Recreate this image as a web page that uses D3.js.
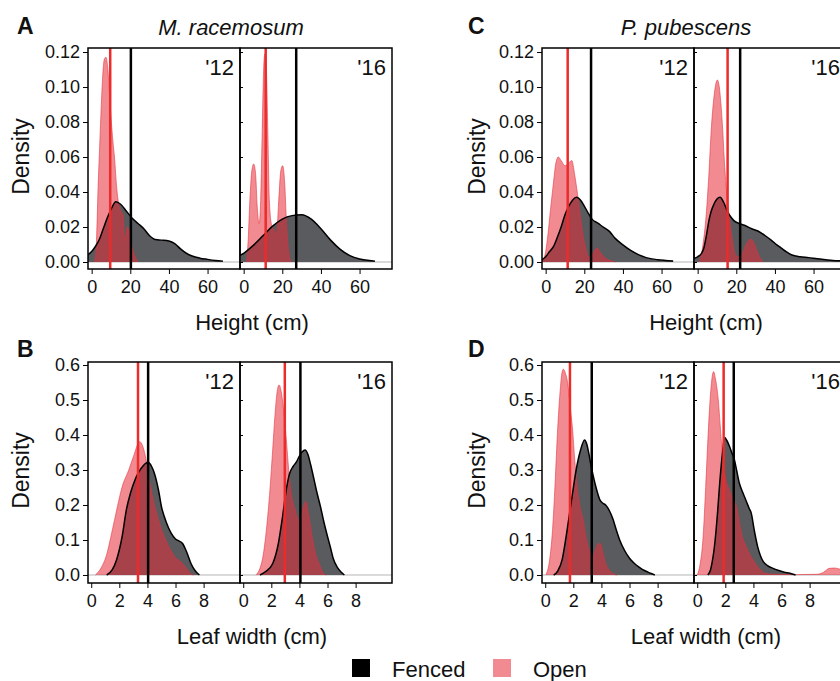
<!DOCTYPE html>
<html>
<head>
<meta charset="utf-8">
<script src="https://cdn.jsdelivr.net/npm/d3@7"></script>
<style>
  body { margin: 0; background: #fff; }
  text { font-family: "Liberation Sans", Arial, sans-serif; fill: #111; }
</style>
</head>
<body>
<div id="chart"></div>
<script>
// ---- data: [value, density] pairs ----
const species = ["M. racemosum", "P. pubescens"];
const years = ["'12", "'16"];
const legendLabels = ["Fenced", "Open"];

const heightTicks = [0, 20, 40, 60];
const heightDensityTicks = [0, 0.02, 0.04, 0.06, 0.08, 0.10, 0.12];
const leafTicks = [0, 2, 4, 6, 8];
const leafDensityTicks = [0, 0.1, 0.2, 0.3, 0.4, 0.5, 0.6];

// M. racemosum, height
const mrHeightFenced12 = [[-2.2,0.004],[0,0.006],[2,0.009],[4,0.013],[6,0.019],[8,0.025],[10,0.030],[12.5,0.0345],[15,0.033],[18,0.029],[21,0.025],[24,0.022],[27,0.019],[30,0.015],[33,0.0128],[36,0.0125],[40,0.012],[43,0.0105],[46,0.0075],[49,0.005],[52,0.0034],[56,0.0022],[60,0.0015],[64,0.0009],[68,0.0005]];
const mrHeightOpen12 = [[1.5,0],[2.5,0.012],[3.3,0.042],[4.1,0.065],[5,0.09],[5.8,0.108],[6.6,0.116],[7.4,0.117],[8.4,0.11],[9.2,0.097],[10.2,0.08],[11,0.069],[11.8,0.06],[13,0.042],[14,0.033],[15.2,0.029],[16.3,0.027],[17.2,0.012],[18.5,0.02],[19.5,0.017],[21,0.008],[22.5,0.003],[24,0]];
const mrHeightFenced16 = [[-2.3,0.0035],[0,0.005],[5,0.0095],[10,0.015],[15,0.0205],[20,0.0245],[25,0.0265],[30,0.027],[35,0.0245],[40,0.019],[45,0.0125],[50,0.0072],[55,0.0036],[60,0.0017],[65,0.0008],[68,0.0005]];
const mrHeightOpen16 = [[1.5,0],[2.3,0.012],[3.2,0.035],[4.2,0.052],[5.2,0.056],[6.2,0.05],[7,0.032],[8,0.022],[8.8,0.035],[9.6,0.075],[10.4,0.112],[11,0.119],[11.7,0.112],[12.5,0.075],[13.3,0.035],[14.5,0.021],[16,0.018],[17,0.015],[18,0.032],[19.2,0.052],[20.2,0.055],[21.2,0.046],[22.2,0.022],[23.2,0.007],[24.5,0]];

// M. racemosum, leaf width
const mrLeafFenced12 = [[1.1,0],[1.5,0.015],[1.8,0.043],[2.2,0.11],[2.5,0.186],[2.8,0.235],[3.1,0.27],[3.4,0.295],[3.7,0.312],[4.05,0.322],[4.3,0.31],[4.5,0.29],[4.8,0.24],[5.0,0.195],[5.2,0.167],[5.5,0.135],[5.7,0.119],[6.0,0.103],[6.2,0.098],[6.5,0.09],[6.8,0.065],[7.1,0.033],[7.4,0.012],[7.7,0]];
const mrLeafOpen12 = [[0.3,0],[0.7,0.02],[1.05,0.052],[1.5,0.128],[1.86,0.195],[2.2,0.252],[2.67,0.3],[3.0,0.338],[3.45,0.381],[3.65,0.37],[3.85,0.34],[4.1,0.28],[4.5,0.2],[4.8,0.155],[5.2,0.11],[5.6,0.075],[6.0,0.05],[6.5,0.033],[6.8,0.018],[7.1,0.003],[7.3,0]];
const mrLeafFenced16 = [[1.2,0],[1.6,0.01],[2.1,0.033],[2.5,0.09],[2.8,0.167],[3.05,0.24],[3.3,0.29],[3.55,0.31],[3.8,0.324],[4.0,0.34],[4.2,0.352],[4.4,0.357],[4.6,0.345],[4.8,0.315],[5.0,0.28],[5.25,0.235],[5.5,0.195],[5.75,0.15],[6.0,0.11],[6.2,0.08],[6.4,0.048],[6.7,0.022],[7.0,0.007],[7.2,0]];
const mrLeafOpen16 = [[0.9,0],[1.15,0.015],[1.4,0.052],[1.65,0.13],[1.9,0.243],[2.1,0.36],[2.25,0.452],[2.4,0.52],[2.55,0.543],[2.7,0.525],[2.85,0.48],[3.0,0.42],[3.15,0.345],[3.3,0.27],[3.5,0.215],[3.7,0.186],[3.9,0.16],[4.05,0.155],[4.25,0.19],[4.45,0.21],[4.65,0.175],[4.9,0.11],[5.15,0.06],[5.4,0.033],[5.7,0.005],[5.9,0]];

// P. pubescens, height
const ppHeightFenced12 = [[-2.5,0.001],[0,0.003],[2,0.006],[4,0.0088],[6,0.014],[8,0.02],[10,0.027],[12,0.032],[14,0.0355],[16,0.037],[18,0.0355],[20,0.032],[22,0.028],[24,0.0245],[27,0.0222],[30,0.0198],[33,0.0175],[36,0.0135],[40,0.0098],[44,0.0066],[48,0.0042],[52,0.0025],[58,0.0013],[62,0.0009],[66,0.0006]];
const ppHeightOpen12 = [[-1.5,0],[0,0.006],[1.2,0.016],[2.5,0.03],[3.9,0.044],[5.2,0.056],[6.5,0.06],[8,0.058],[10,0.055],[11.5,0.056],[13.5,0.058],[15,0.05],[16.1,0.042],[17.5,0.03],[18.7,0.02],[20.5,0.009],[22.3,0.003],[24,0.004],[25.5,0.007],[26.7,0.008],[28,0.006],[30,0.003],[33,0.001],[36,0]];
const ppHeightFenced16 = [[-2,0.002],[0,0.003],[2,0.005],[3.2,0.008],[4.5,0.015],[5.8,0.0235],[7,0.029],[8.4,0.033],[10,0.036],[11.6,0.037],[13.5,0.034],[15.4,0.029],[17,0.026],[18.9,0.0235],[21.5,0.022],[24.2,0.021],[28,0.019],[31.2,0.0177],[35,0.015],[38.2,0.0124],[41,0.0098],[43.5,0.0078],[46,0.0058],[48.8,0.004],[53,0.003],[57.5,0.0025],[62,0.0018],[66.3,0.0013],[70,0.0009],[75,0.0006],[80,0.0004]];
const ppHeightOpen16 = [[0.9,0],[2.5,0.008],[4.4,0.027],[5.8,0.05],[7,0.075],[8.5,0.095],[10.2,0.104],[11.2,0.1],[12,0.091],[13,0.075],[13.7,0.06],[15,0.04],[16.4,0.025],[18,0.013],[19.6,0.004],[21.5,0.003],[23.5,0.006],[25.5,0.011],[27.7,0.013],[29.5,0.01],[31.5,0.004],[33.8,0]];

// P. pubescens, leaf width
const ppLeafFenced12 = [[0.6,0],[0.9,0.012],[1.2,0.043],[1.45,0.1],[1.7,0.167],[1.95,0.235],[2.2,0.3],[2.5,0.355],[2.8,0.386],[2.95,0.375],[3.1,0.348],[3.25,0.315],[3.4,0.286],[3.65,0.245],[3.9,0.214],[4.1,0.205],[4.3,0.2],[4.55,0.185],[4.8,0.162],[5.05,0.13],[5.3,0.1],[5.65,0.07],[6.0,0.048],[6.35,0.033],[6.7,0.022],[7.1,0.012],[7.5,0.005],[7.8,0]];
const ppLeafOpen12 = [[0.05,0],[0.3,0.04],[0.52,0.129],[0.7,0.26],[0.88,0.414],[1.05,0.52],[1.2,0.58],[1.29,0.588],[1.45,0.575],[1.6,0.548],[1.78,0.48],[1.95,0.414],[2.1,0.33],[2.3,0.243],[2.5,0.19],[2.7,0.157],[2.85,0.12],[3.0,0.09],[3.2,0.065],[3.4,0.055],[3.6,0.075],[3.8,0.09],[3.95,0.088],[4.1,0.065],[4.3,0.033],[4.6,0.012],[4.9,0.002],[5.1,0]];
const ppLeafFenced16 = [[0.75,0],[0.95,0.015],[1.1,0.045],[1.25,0.09],[1.45,0.18],[1.6,0.262],[1.8,0.35],[1.95,0.393],[2.1,0.385],[2.3,0.367],[2.5,0.345],[2.65,0.329],[2.8,0.3],[3.0,0.262],[3.25,0.235],[3.5,0.21],[3.7,0.19],[3.85,0.176],[4.05,0.13],[4.3,0.081],[4.5,0.055],[4.7,0.038],[5.0,0.027],[5.4,0.019],[5.8,0.013],[6.2,0.008],[6.6,0.005],[7.0,0]];
const ppLeafOpen16 = [[0.0,0],[0.2,0.03],[0.42,0.11],[0.6,0.25],[0.78,0.405],[0.95,0.52],[1.1,0.575],[1.17,0.581],[1.3,0.56],[1.5,0.5],[1.65,0.42],[1.85,0.319],[2.05,0.27],[2.3,0.243],[2.55,0.215],[2.8,0.195],[3.0,0.15],[3.2,0.11],[3.45,0.085],[3.7,0.062],[3.95,0.045],[4.2,0.029],[4.5,0.015],[4.8,0.005],[5.5,0.002],[7,0.001],[8.5,0.002],[9.0,0.008],[9.4,0.019],[9.8,0.02],[10.2,0.016],[10.6,0.012]];

// group means (vertical lines): [fenced, open]
const mrHeightMeans12 = [20.3, 9.6];
const mrHeightMeans16 = [27.2, 11.4];
const mrLeafMeans12 = [4.05, 3.33];
const mrLeafMeans16 = [4.07, 2.96];
const ppHeightMeans12 = [23.5, 11.4];
const ppHeightMeans16 = [22.0, 15.5];
const ppLeafMeans12 = [3.31, 1.76];
const ppLeafMeans16 = [2.6, 1.88];

// ---- layout ----
const width = 840, height = 681;
const facetW = 152;
const fenceFill = "#5a5b5f", openColor = "#e62f3b", openAlpha = 0.56, meanRed = "#ec2b2b";

const cols = [
  { left: 88, letters: ["A", "B"], letterX: 17, densX: 30, tx: 231 },
  { left: 542, letters: ["C", "D"], letterX: 468, densX: 486, tx: 686 }
];
const rows = [
  { top: 48, bottom: 269, xDomain: [-1.9, 76.8], yDomain: [-0.004, 0.1223],
    xTicks: heightTicks, yTicks: heightDensityTicks, fmt: d3.format(".2f"), title: "Height (cm)", letterY: 34 },
  { top: 362, bottom: 583, xDomain: [-0.23, 10.59], yDomain: [-0.0229, 0.6086],
    xTicks: leafTicks, yTicks: leafDensityTicks, fmt: d3.format(".1f"), title: "Leaf width (cm)", letterY: 357 }
];

const panels = [
  { c: 0, r: 0, f: 0, fenced: mrHeightFenced12, open: mrHeightOpen12, means: mrHeightMeans12 },
  { c: 0, r: 0, f: 1, fenced: mrHeightFenced16, open: mrHeightOpen16, means: mrHeightMeans16 },
  { c: 0, r: 1, f: 0, fenced: mrLeafFenced12, open: mrLeafOpen12, means: mrLeafMeans12 },
  { c: 0, r: 1, f: 1, fenced: mrLeafFenced16, open: mrLeafOpen16, means: mrLeafMeans16 },
  { c: 1, r: 0, f: 0, fenced: ppHeightFenced12, open: ppHeightOpen12, means: ppHeightMeans12 },
  { c: 1, r: 0, f: 1, fenced: ppHeightFenced16, open: ppHeightOpen16, means: ppHeightMeans16 },
  { c: 1, r: 1, f: 0, fenced: ppLeafFenced12, open: ppLeafOpen12, means: ppLeafMeans12 },
  { c: 1, r: 1, f: 1, fenced: ppLeafFenced16, open: ppLeafOpen16, means: ppLeafMeans16 }
];

const svg = d3.select("#chart").append("svg")
  .attr("width", width)
  .attr("height", height);

const defs = svg.append("defs");

panels.forEach((p, i) => {
  const col = cols[p.c], row = rows[p.r];
  const x0 = col.left + p.f * facetW;

  const x = d3.scaleLinear().domain(row.xDomain).range([x0, x0 + facetW]);
  const y = d3.scaleLinear().domain(row.yDomain).range([row.bottom, row.top]);

  defs.append("clipPath").attr("id", "clip" + i)
    .append("rect")
    .attr("x", x0).attr("y", row.top)
    .attr("width", facetW).attr("height", row.bottom - row.top);

  const g = svg.append("g").attr("clip-path", `url(#clip${i})`);

  // zero baseline
  g.append("line")
    .attr("x1", x0).attr("x2", x0 + facetW)
    .attr("y1", y(0)).attr("y2", y(0))
    .attr("stroke", "#b5b5b5").attr("stroke-width", 1);

  const area = d3.area()
    .x(d => x(d[0])).y0(y(0)).y1(d => y(d[1]))
    .curve(d3.curveMonotoneX);
  const line = d3.line()
    .x(d => x(d[0])).y(d => y(d[1]))
    .curve(d3.curveMonotoneX);

  g.append("path").datum(p.fenced)
    .attr("d", area)
    .attr("fill", fenceFill);

  g.append("path").datum(p.open)
    .attr("d", area)
    .attr("fill", openColor)
    .attr("fill-opacity", openAlpha);

  g.append("path").datum(p.open)
    .attr("d", line)
    .attr("fill", "none")
    .attr("stroke", openColor)
    .attr("stroke-opacity", openAlpha)
    .attr("stroke-width", 1);

  g.append("path").datum(p.fenced)
    .attr("d", line)
    .attr("fill", "none")
    .attr("stroke", "#000")
    .attr("stroke-width", 1.5);

  // mean lines
  g.append("line")
    .attr("x1", x(p.means[1])).attr("x2", x(p.means[1]))
    .attr("y1", row.top).attr("y2", row.bottom)
    .attr("stroke", meanRed).attr("stroke-width", 2.5);
  g.append("line")
    .attr("x1", x(p.means[0])).attr("x2", x(p.means[0]))
    .attr("y1", row.top).attr("y2", row.bottom)
    .attr("stroke", "#000").attr("stroke-width", 2.5);

  // border
  svg.append("rect")
    .attr("x", x0).attr("y", row.top)
    .attr("width", facetW).attr("height", row.bottom - row.top)
    .attr("fill", "none").attr("stroke", "#000").attr("stroke-width", 1.5);

  // x axis
  const xa = svg.append("g")
    .attr("transform", `translate(0,${row.bottom})`)
    .call(d3.axisBottom(x).tickValues(row.xTicks).tickSize(5).tickPadding(6));
  xa.select(".domain").remove();
  xa.selectAll("text").style("font-size", "18px").attr("fill", "#111");

  // y axis
  if (p.f === 0) {
    const ya = svg.append("g")
      .attr("transform", `translate(${x0},0)`)
      .call(d3.axisLeft(y).tickValues(row.yTicks).tickFormat(row.fmt).tickSize(5).tickPadding(3));
    ya.select(".domain").remove();
    ya.selectAll("text").style("font-size", "18px").attr("fill", "#111");
  } else {
    const ya = svg.append("g")
      .attr("transform", `translate(${x0},0)`)
      .call(d3.axisRight(y).tickValues(row.yTicks).tickFormat("").tickSize(3));
    ya.select(".domain").remove();
  }

  // year label
  svg.append("text")
    .attr("x", x0 + facetW - 6)
    .attr("y", row.top + 27)
    .attr("text-anchor", "end")
    .style("font-size", "22px")
    .text(years[p.f]);
});

// titles, axis labels, panel letters
cols.forEach((col, ci) => {
  svg.append("text")
    .attr("x", col.tx).attr("y", 35)
    .attr("text-anchor", "middle")
    .style("font-size", "22px").style("font-style", "italic")
    .text(species[ci]);

  rows.forEach((row, ri) => {
    svg.append("text")
      .attr("x", col.letterX).attr("y", row.letterY)
      .style("font-size", "23px").style("font-weight", "bold")
      .text(col.letters[ri]);

    svg.append("text")
      .attr("transform", `translate(${col.densX},${(row.top + row.bottom) / 2 - 2}) rotate(-90)`)
      .attr("text-anchor", "middle")
      .attr("dy", "-0.05em")
      .style("font-size", "23px")
      .text("Density");

    svg.append("text")
      .attr("x", col.left + facetW + 12).attr("y", row.bottom + 61)
      .attr("text-anchor", "middle")
      .style("font-size", "22px")
      .text(row.title);
  });
});

// legend
const legend = svg.append("g");
legend.append("rect").attr("x", 352).attr("y", 659).attr("width", 18).attr("height", 18).attr("fill", "#000");
legend.append("text").attr("x", 392).attr("y", 677).style("font-size", "22px").text(legendLabels[0]);
legend.append("rect").attr("x", 493).attr("y", 659).attr("width", 18).attr("height", 18)
  .attr("fill", openColor).attr("fill-opacity", openAlpha);
legend.append("text").attr("x", 533).attr("y", 677).style("font-size", "22px").text(legendLabels[1]);
</script>
</body>
</html>
